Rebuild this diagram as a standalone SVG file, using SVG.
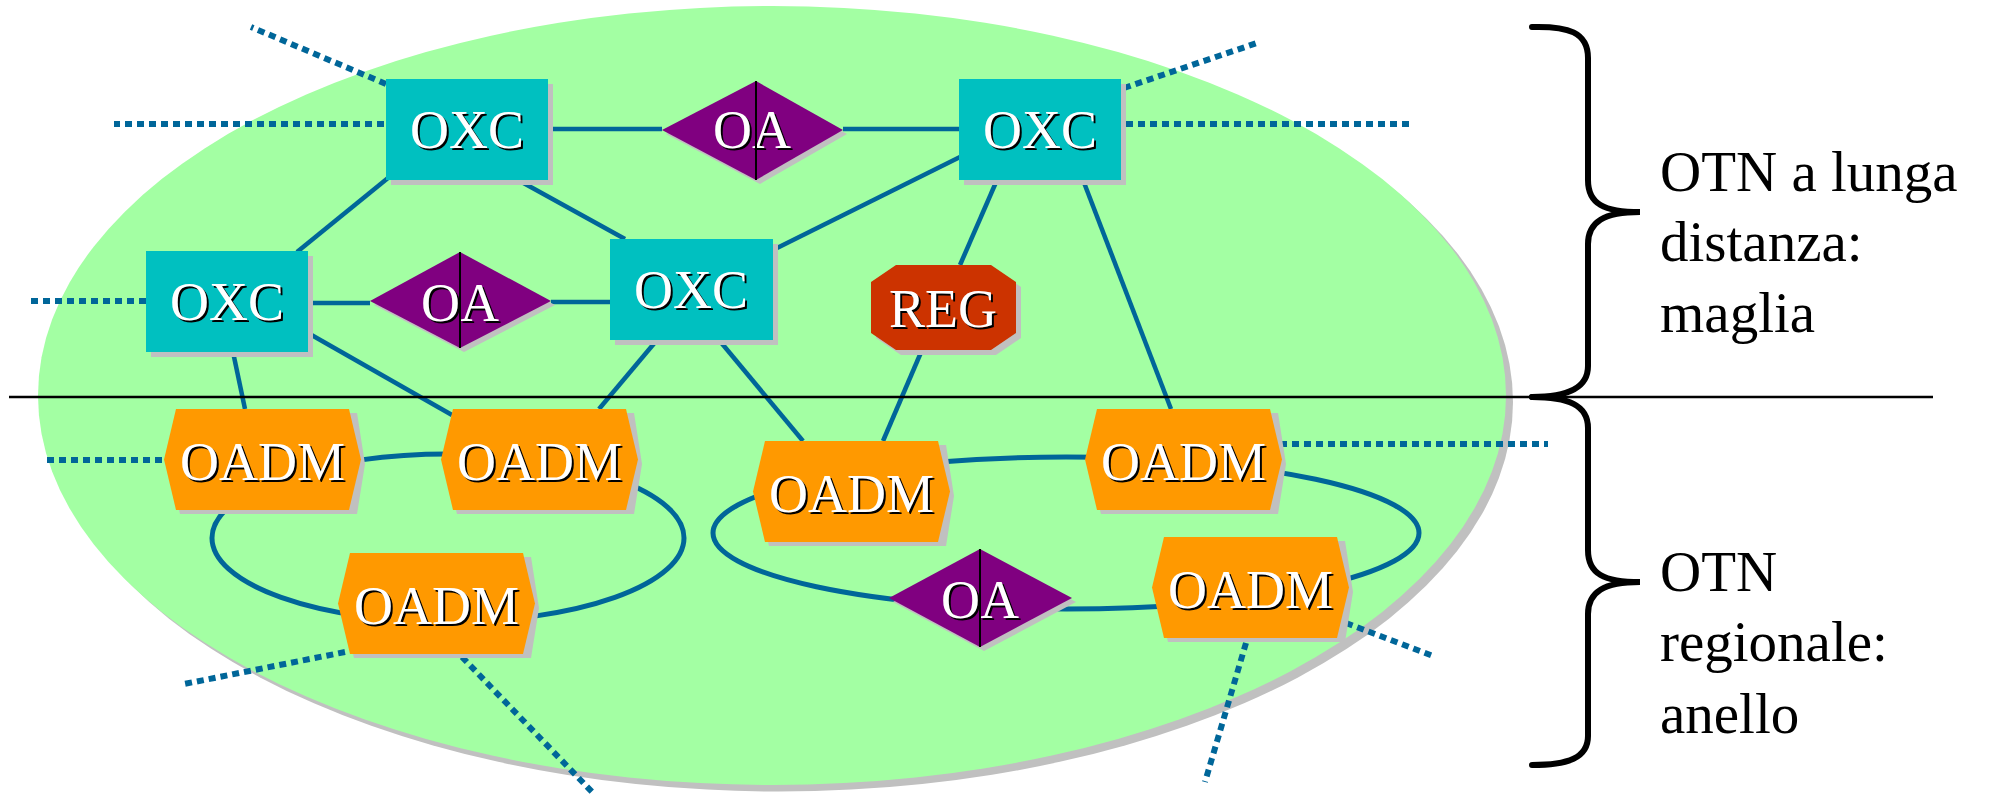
<svg xmlns="http://www.w3.org/2000/svg" width="1989" height="796" viewBox="0 0 1989 796">
<defs>
<style>
.lbl{font-family:"Liberation Serif","Times New Roman",serif;font-size:54px;text-anchor:middle}
.sh{fill:#000}
.fg{fill:#fff}
.oxc{fill:#00C0C0}
.oadm{fill:#FF9900}
.oa{fill:#800080}
.reg{fill:#CC3300}
.shadow{fill:#C0C0C0}
.link{stroke:#006699;stroke-width:4.5;fill:none}
.ring{stroke:#006699;stroke-width:5;fill:none}
.dot{stroke:#006699;stroke-width:6;stroke-dasharray:7 5;fill:none}
.mid{stroke:#000;stroke-width:2}
.brace{stroke:#000;stroke-width:6;fill:none;stroke-linecap:round}
.side{font-family:"Liberation Serif","Times New Roman",serif;font-size:57px;fill:#000}
</style>
</defs>
<rect width="1989" height="796" fill="#fff"/>
<g id="area">
<ellipse cx="779" cy="402" rx="734" ry="389.5" fill="#C0C0C0"/>
<ellipse cx="772" cy="395.5" rx="734" ry="389.5" fill="#A3FFA3"/>
</g>
<g id="connectors">
<line class="link" x1="548" y1="129" x2="662" y2="129"/>
<line class="link" x1="843" y1="129" x2="959" y2="129"/>
<line class="link" x1="388" y1="178" x2="297" y2="252"/>
<line class="link" x1="518" y1="180" x2="625" y2="239"/>
<line class="link" x1="308" y1="303" x2="370" y2="303"/>
<line class="link" x1="551" y1="302" x2="610" y2="302"/>
<line class="link" x1="960" y1="157" x2="773" y2="250"/>
<line class="link" x1="997" y1="180" x2="960" y2="265"/>
<line class="link" x1="1083" y1="180" x2="1171" y2="409"/>
<line class="link" x1="233" y1="352" x2="245" y2="409"/>
<line class="link" x1="308" y1="333" x2="452" y2="415"/>
<line class="link" x1="657" y1="340" x2="599" y2="409"/>
<line class="link" x1="719" y1="340" x2="803" y2="441"/>
<line class="link" x1="922" y1="350" x2="883" y2="441"/>
<ellipse class="ring" cx="448" cy="538" rx="236" ry="84"/>
<ellipse class="ring" cx="1066" cy="533" rx="353" ry="76"/>
<line class="dot" x1="386" y1="84" x2="251" y2="27"/>
<line class="dot" x1="384" y1="124" x2="114" y2="124"/>
<line class="dot" x1="146" y1="301" x2="27" y2="301"/>
<line class="dot" x1="1124" y1="88" x2="1257" y2="43"/>
<line class="dot" x1="1126" y1="124" x2="1414" y2="124"/>
<line class="dot" x1="162" y1="460" x2="44" y2="460"/>
<line class="dot" x1="345" y1="652" x2="184" y2="684"/>
<line class="dot" x1="462" y1="657" x2="595" y2="795"/>
<line class="dot" x1="1280" y1="444" x2="1548" y2="444"/>
<line class="dot" x1="1346" y1="623" x2="1433" y2="656"/>
<line class="dot" x1="1246" y1="643" x2="1205" y2="782"/>
</g>
<line id="divider" x1="9" y1="397" x2="1933" y2="397" stroke="#000" stroke-width="2.5"/>
<g id="oxc1">
<rect class="shadow" x="391" y="84" width="162" height="101"/>
<rect class="oxc" x="386" y="79" width="162" height="101"/>
<text class="lbl sh" x="469" y="150">OXC</text><text class="lbl fg" x="467" y="148">OXC</text>
</g>
<g id="oxc2">
<rect class="shadow" x="964" y="84" width="162" height="101"/>
<rect class="oxc" x="959" y="79" width="162" height="101"/>
<text class="lbl sh" x="1042" y="150">OXC</text><text class="lbl fg" x="1040" y="148">OXC</text>
</g>
<g id="oxc3">
<rect class="shadow" x="151" y="256" width="162" height="101"/>
<rect class="oxc" x="146" y="251" width="162" height="101"/>
<text class="lbl sh" x="229" y="322">OXC</text><text class="lbl fg" x="227" y="320">OXC</text>
</g>
<g id="oxc4">
<rect class="shadow" x="615" y="244" width="163" height="101"/>
<rect class="oxc" x="610" y="239" width="163" height="101"/>
<text class="lbl sh" x="693" y="310">OXC</text><text class="lbl fg" x="691" y="308">OXC</text>
</g>
<g id="oa1">
<polygon class="shadow" points="760,85 847,134 760,184 666,134"/>
<polygon class="oa" points="756,81 843,130 756,180 662,130"/>
<text class="lbl sh" x="754" y="150">OA</text><text class="lbl fg" x="752" y="148">OA</text>
<line class="mid" x1="756" y1="81" x2="756" y2="180"/>
</g>
<g id="oa2">
<polygon class="shadow" points="464,256 555,305 464,352 374,305"/>
<polygon class="oa" points="460,252 551,301 460,348 370,301"/>
<text class="lbl sh" x="462" y="323">OA</text><text class="lbl fg" x="460" y="321">OA</text>
<line class="mid" x1="460" y1="252" x2="460" y2="348"/>
</g>
<g id="oa3">
<polygon class="shadow" points="984,553 1076,602 984,651 893,602"/>
<polygon class="oa" points="980,549 1072,598 980,647 889,598"/>
<text class="lbl sh" x="982" y="620">OA</text><text class="lbl fg" x="980" y="618">OA</text>
<line class="mid" x1="980" y1="549" x2="980" y2="647"/>
</g>
<g id="reg">
<polygon class="shadow" points="901,270 996,270 1021,287 1021,338 996,355 901,355 876,338 876,287"/>
<polygon class="reg" points="896,265 991,265 1016,282 1016,333 991,350 896,350 871,333 871,282"/>
<text class="lbl sh" x="945" y="329">REG</text><text class="lbl fg" x="943" y="327">REG</text>
</g>
<g id="oadm1">
<polygon class="shadow" points="180,413 357,413 365,464 357,514 180,514 168,464"/>
<polygon class="oadm" points="176,409 349,409 361,459.5 349,510 176,510 164,459.5"/>
<text class="lbl sh" x="264.5" y="482">OADM</text><text class="lbl fg" x="262.5" y="480">OADM</text>
</g>
<g id="oadm2">
<polygon class="shadow" points="457,413 634,413 642,464 634,514 457,514 445,464"/>
<polygon class="oadm" points="453,409 626,409 638,459.5 626,510 453,510 441,459.5"/>
<text class="lbl sh" x="541.5" y="482">OADM</text><text class="lbl fg" x="539.5" y="480">OADM</text>
</g>
<g id="oadm3">
<polygon class="shadow" points="354,557 531,557 539,608 531,658 354,658 342,608"/>
<polygon class="oadm" points="350,553 523,553 535,603.5 523,654 350,654 338,603.5"/>
<text class="lbl sh" x="438.5" y="626">OADM</text><text class="lbl fg" x="436.5" y="624">OADM</text>
</g>
<g id="oadm4">
<polygon class="shadow" points="769,445 946,445 954,496 946,546 769,546 757,496"/>
<polygon class="oadm" points="765,441 938,441 950,491.5 938,542 765,542 753,491.5"/>
<text class="lbl sh" x="853.5" y="514">OADM</text><text class="lbl fg" x="851.5" y="512">OADM</text>
</g>
<g id="oadm5">
<polygon class="shadow" points="1101,413 1278,413 1286,464 1278,514 1101,514 1089,464"/>
<polygon class="oadm" points="1097,409 1270,409 1282,459.5 1270,510 1097,510 1085,459.5"/>
<text class="lbl sh" x="1185.5" y="482">OADM</text><text class="lbl fg" x="1183.5" y="480">OADM</text>
</g>
<g id="oadm6">
<polygon class="shadow" points="1168,541 1345,541 1353,592 1345,642 1168,642 1156,592"/>
<polygon class="oadm" points="1164,537 1337,537 1349,587.5 1337,638 1164,638 1152,587.5"/>
<text class="lbl sh" x="1252.5" y="610">OADM</text><text class="lbl fg" x="1250.5" y="608">OADM</text>
</g>
<g id="brace-top">
<path class="brace" d="M1532,27 C1568,26 1588,32 1588,58 L1588,180 C1588,204 1604,212 1640,212 C1604,212 1588,222 1588,244 L1588,366 C1588,388 1568,397 1532,397"/>
<text class="side" x="1660" y="191">OTN a lunga</text>
<text class="side" x="1660" y="261">distanza:</text>
<text class="side" x="1660" y="332">maglia</text>
</g>
<g id="brace-bottom">
<path class="brace" d="M1532,397 C1568,397 1588,405 1588,428 L1588,550 C1588,574 1604,582 1640,582 C1604,582 1588,592 1588,614 L1588,736 C1588,758 1568,765 1532,765"/>
<text class="side" x="1660" y="591">OTN</text>
<text class="side" x="1660" y="661">regionale:</text>
<text class="side" x="1660" y="733">anello</text>
</g>
</svg>
